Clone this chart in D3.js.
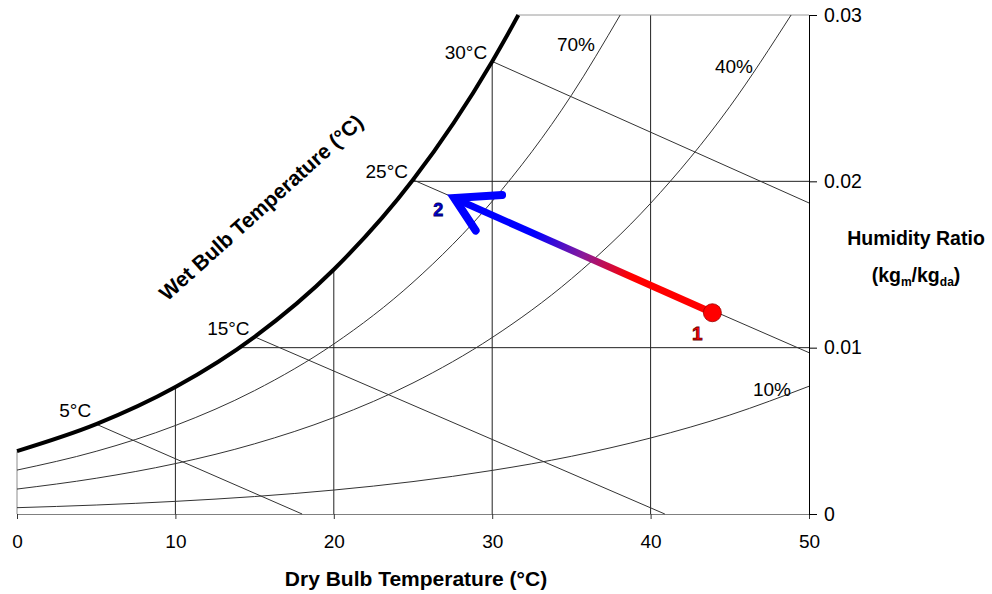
<!DOCTYPE html>
<html>
<head>
<meta charset="utf-8">
<script src="https://cdn.jsdelivr.net/npm/d3@7"></script>
<style>
  body { margin: 0; background: #fff; }
  text { font-family: Arial, "Liberation Sans", sans-serif; }
</style>
</head>
<body>
<div class="chart"></div>
<script>
// Section 1: data
// saturation curve (100% RH)
var satT = [0, 5, 10, 15, 20, 25, 30, 31, 31.65];
var satW = [0.00378, 0.0054, 0.00763, 0.01065, 0.0147, 0.02009, 0.02721, 0.02887, 0.03];

// relative humidity curves
var rh70T = [0, 5, 10, 15, 20, 25, 30, 35, 38.08];
var rh70W = [0.00264, 0.00377, 0.00532, 0.00742, 0.01022, 0.01393, 0.0188, 0.02517, 0.03];
var rh40T = [0, 5, 10, 15, 20, 25, 30, 35, 40, 45, 48.87];
var rh40W = [0.0015, 0.00215, 0.00303, 0.00422, 0.0058, 0.00788, 0.01061, 0.01414, 0.01868, 0.02449, 0.03];
var rh10T = [0, 5, 10, 15, 20, 25, 30, 35, 40, 45, 50];
var rh10W = [0.00038, 0.00054, 0.00076, 0.00105, 0.00144, 0.00195, 0.00262, 0.00347, 0.00457, 0.00595, 0.00768];

// wet bulb lines
var wbLabels = ["5°C", "15°C", "25°C", "30°C"];
var wbStartT = [5, 15, 25, 30];
var wbStartW = [0.0054, 0.01065, 0.02009, 0.02721];
var wbEndT = [18.0, 40.9, 50, 50];
var wbEndW = [0, 0, 0.0097, 0.0187];

// process 1 -> 2
var procLabels = ["1", "2"];
var procT = [43.9, 27.6];
var procW = [0.0121, 0.0190];

var xTicks = [0, 10, 20, 30, 40, 50];
var yTicks = [0, 0.01, 0.02, 0.03];
var yTickLabels = ["0", "0.01", "0.02", "0.03"];

// Section 2: setup
var svgWidth = 992;
var svgHeight = 594;

var svg = d3
  .select(".chart")
  .append("svg")
  .attr("width", svgWidth)
  .attr("height", svgHeight)
  .style("display", "block");

svg.append("rect").attr("width", svgWidth).attr("height", svgHeight).attr("fill", "#fff");

var xScale = d3.scaleLinear().domain([0, 50]).range([17, 809]);
var yScale = d3.scaleLinear().domain([0, 0.03]).range([514, 15]);

function zip(ts, ws) {
  return ts.map((t, i) => [t, ws[i]]);
}

var line = d3
  .line()
  .x((d) => xScale(d[0]))
  .y((d) => yScale(d[1]))
  .curve(d3.curveMonotoneX);

// plot frame (grey) and gridlines
svg.append("line")
  .attr("x1", xScale(0)).attr("x2", xScale(0))
  .attr("y1", yScale(0)).attr("y2", yScale(0.03))
  .attr("stroke", "#8c8c8c");

svg.append("g")
  .selectAll("line")
  .data([10, 20, 30, 40])
  .enter()
  .append("line")
  .attr("x1", (d) => xScale(d)).attr("x2", (d) => xScale(d))
  .attr("y1", yScale(0)).attr("y2", yScale(0.03))
  .attr("stroke", "#222")
  .attr("stroke-width", 1);

svg.append("g")
  .selectAll("line")
  .data([0.01, 0.02, 0.03])
  .enter()
  .append("line")
  .attr("x1", xScale(0)).attr("x2", xScale(50))
  .attr("y1", (d) => yScale(d)).attr("y2", (d) => yScale(d))
  .attr("stroke", (d) => (d === 0.03 ? "#9a9a9a" : "#222"))
  .attr("stroke-width", 1);

// white out everything above the saturation curve
var satPts = zip(satT, satW);
var maskPath =
  line(satPts) +
  `L${xScale(satT[satT.length - 1])},${yScale(0.03) - 4}` +
  `L${xScale(0) - 4},${yScale(0.03) - 4}` +
  `L${xScale(0) - 4},${yScale(satW[0])}Z`;
svg.append("path").attr("d", maskPath).attr("fill", "#fff");

// x axis (bottom)
var bottomAxis = d3.axisBottom(xScale).tickValues(xTicks).tickSize(5).tickPadding(16).tickSizeOuter(0);
var xAxis = svg
  .append("g")
  .attr("transform", `translate(0, ${yScale(0)})`)
  .call(bottomAxis);
xAxis.select(".domain").attr("stroke", "#808080");
xAxis.selectAll(".tick line").attr("stroke", "#333");
xAxis.selectAll("text").attr("font-size", "19px").attr("fill", "#000")
  .style("font-family", "Arial, 'Liberation Sans', sans-serif");

// y axis (right)
var rightAxis = d3.axisRight(yScale).tickValues(yTicks).tickSize(8).tickPadding(7).tickSizeOuter(0)
  .tickFormat((d, i) => yTickLabels[i]);
var yAxis = svg
  .append("g")
  .attr("transform", `translate(${xScale(50)}, 0)`)
  .call(rightAxis);
yAxis.select(".domain").attr("stroke", "#000");
yAxis.selectAll("text").attr("font-size", "19.5px").attr("fill", "#000")
  .style("font-family", "Arial, 'Liberation Sans', sans-serif");

// RH curves
[zip(rh70T, rh70W), zip(rh40T, rh40W), zip(rh10T, rh10W)].forEach(function (pts) {
  svg.append("path")
    .attr("d", line(pts))
    .attr("fill", "none")
    .attr("stroke", "#333")
    .attr("stroke-width", 1);
});

// wet bulb lines
svg.append("g")
  .selectAll("line")
  .data(wbLabels)
  .enter()
  .append("line")
  .attr("x1", (d, i) => xScale(wbStartT[i]))
  .attr("y1", (d, i) => yScale(wbStartW[i]))
  .attr("x2", (d, i) => xScale(wbEndT[i]))
  .attr("y2", (d, i) => yScale(wbEndW[i]))
  .attr("stroke", "#333")
  .attr("stroke-width", 1);

// saturation curve
svg.append("path")
  .attr("d", line(satPts))
  .attr("fill", "none")
  .attr("stroke", "#000")
  .attr("stroke-width", 4);

// wet bulb labels
svg.append("g")
  .selectAll("text")
  .data(wbLabels)
  .enter()
  .append("text")
  .attr("x", (d, i) => xScale(wbStartT[i]) - 5)
  .attr("y", (d, i) => yScale(wbStartW[i]) - 2 - (i === 0 ? 5 : 0))
  .attr("text-anchor", "end")
  .attr("font-size", "19px")
  .text((d) => d);

// RH labels
var rhLabels = svg.append("g").attr("font-size", "19px");
rhLabels.append("text").attr("x", 576).attr("y", 51).attr("text-anchor", "middle").text("70%");
rhLabels.append("text").attr("x", 734).attr("y", 73).attr("text-anchor", "middle").text("40%");
rhLabels.append("text").attr("x", 772).attr("y", 396).attr("text-anchor", "middle").text("10%");

// axis titles
svg.append("text")
  .attr("x", 416).attr("y", 586)
  .attr("text-anchor", "middle")
  .attr("font-size", "21px").attr("font-weight", "bold")
  .text("Dry Bulb Temperature (°C)");

svg.append("text")
  .attr("x", 916).attr("y", 245)
  .attr("text-anchor", "middle")
  .attr("font-size", "19.5px").attr("font-weight", "bold")
  .text("Humidity Ratio");

var unitText = svg.append("text")
  .attr("x", 916).attr("y", 282)
  .attr("text-anchor", "middle")
  .attr("font-size", "19.5px").attr("font-weight", "bold");
unitText.append("tspan").text("(kg");
unitText.append("tspan").attr("font-size", "12px").attr("dy", 4).text("m");
unitText.append("tspan").attr("dy", -4).text("/kg");
unitText.append("tspan").attr("font-size", "12px").attr("dy", 4).text("da");
unitText.append("tspan").attr("dy", -4).text(")");

svg.append("text")
  .attr("transform", "translate(266, 213) rotate(-42)")
  .attr("text-anchor", "middle")
  .attr("font-size", "21px").attr("font-weight", "bold")
  .text("Wet Bulb Temperature (°C)");

// process arrow 1 -> 2
var p1 = [xScale(procT[0]), yScale(procW[0])];
var p2 = [xScale(procT[1]), yScale(procW[1])];

var grad = svg.append("defs").append("linearGradient")
  .attr("id", "procGrad")
  .attr("gradientUnits", "userSpaceOnUse")
  .attr("x1", p1[0]).attr("y1", p1[1])
  .attr("x2", p2[0]).attr("y2", p2[1]);
grad.append("stop").attr("offset", 0.32).attr("stop-color", "#ff0000");
grad.append("stop").attr("offset", 0.5).attr("stop-color", "#8a1a9a");
grad.append("stop").attr("offset", 0.69).attr("stop-color", "#0000ff");

svg.append("line")
  .attr("x1", p1[0]).attr("y1", p1[1])
  .attr("x2", p2[0] + 4).attr("y2", p2[1] + 2)
  .attr("stroke", "url(#procGrad)")
  .attr("stroke-width", 7);

// arrow head (open chevron)
var back = Math.atan2(p1[1] - p2[1], p1[0] - p2[0]);
var arm1 = [p2[0] + 48 * Math.cos(back - 0.48), p2[1] + 48 * Math.sin(back - 0.48)];
var arm2 = [p2[0] + 39 * Math.cos(back + 0.57), p2[1] + 39 * Math.sin(back + 0.57)];
svg.append("path")
  .attr("d", `M${arm1[0]},${arm1[1]}L${p2[0]},${p2[1]}L${arm2[0]},${arm2[1]}`)
  .attr("fill", "none")
  .attr("stroke", "#0000ff")
  .attr("stroke-width", 8)
  .attr("stroke-linejoin", "miter")
  .attr("stroke-linecap", "round");

svg.append("circle")
  .attr("cx", p1[0]).attr("cy", p1[1])
  .attr("r", 9)
  .attr("fill", "#ff0000")
  .attr("stroke", "#900")
  .attr("stroke-width", 0.8);

// point labels
svg.append("text")
  .attr("x", p1[0] - 15).attr("y", p1[1] + 27)
  .attr("text-anchor", "middle")
  .attr("font-size", "19px").attr("font-weight", "bold")
  .attr("fill", "#ff0000").attr("stroke", "#600").attr("stroke-width", 0.8)
  .text(procLabels[0]);

svg.append("text")
  .attr("x", p2[0] - 16).attr("y", p2[1] + 18)
  .attr("text-anchor", "middle")
  .attr("font-size", "18px").attr("font-weight", "bold")
  .attr("fill", "#0000dd").attr("stroke", "#000060").attr("stroke-width", 0.8)
  .text(procLabels[1]);
</script>
</body>
</html>
